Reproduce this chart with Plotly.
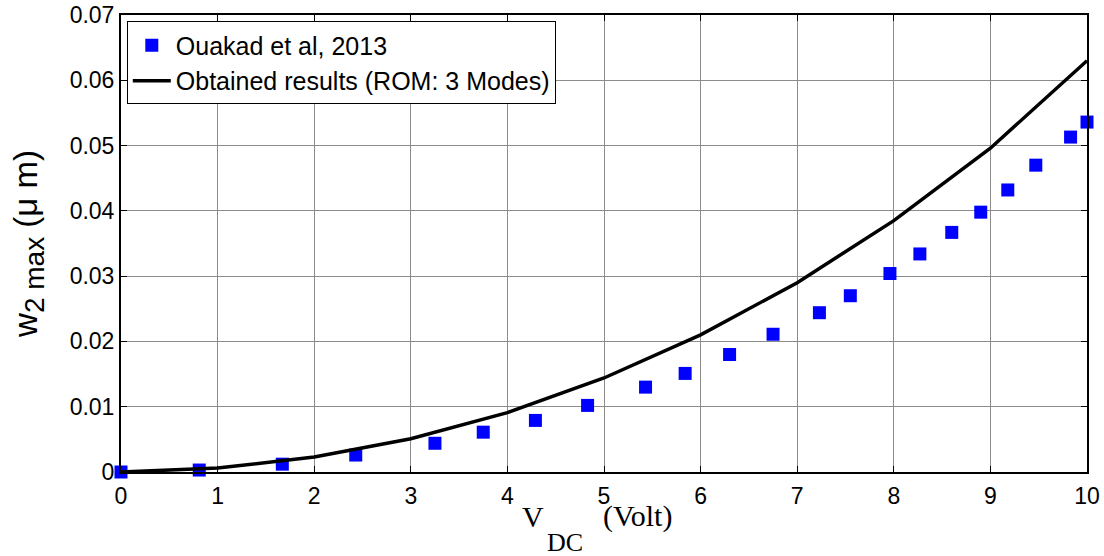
import plotly.graph_objects as go

# Reference data (Ouakad et al, 2013)
ref_v = [0.0, 0.81, 1.67, 2.43, 3.25, 3.75, 4.29, 4.83, 5.43, 5.84, 6.30, 6.75,
         7.23, 7.55, 7.96, 8.27, 8.60, 8.90, 9.18, 9.47, 9.83, 10.0]
ref_w = [0.0, 0.0003, 0.0012, 0.0026, 0.0044, 0.0061, 0.0079, 0.0102, 0.0130, 0.0151,
         0.0180, 0.0211, 0.0244, 0.0270, 0.0304, 0.0334, 0.0367, 0.0398, 0.0432,
         0.0470, 0.0513, 0.0536]

# Obtained results (ROM: 3 Modes)
rom_v = [0, 1, 2, 3, 4, 5, 6, 7, 8, 9, 10]
rom_w = [0.0, 0.0006, 0.0023, 0.0051, 0.0091, 0.0144, 0.0210, 0.0290, 0.0385, 0.0496, 0.0630]

x_ticks = [0, 1, 2, 3, 4, 5, 6, 7, 8, 9, 10]
y_ticks = [0, 0.01, 0.02, 0.03, 0.04, 0.05, 0.06, 0.07]
y_tick_text = ["0", "0.01", "0.02", "0.03", "0.04", "0.05", "0.06", "0.07"]

x_title_main = "V"
x_title_sub = "DC"
x_title_unit = "(Volt)"

ARIAL = "Arial, Liberation Sans, sans-serif"
TIMES = "Times New Roman, Liberation Serif, serif"

W, H = 1104, 556
ML, MR, MT, MB = 121, 17, 15, 84
PW = W - ML - MR


def px_to_paper_x(px):
    return (px - ML) / PW


fig = go.Figure()
fig.add_trace(go.Scatter(
    x=ref_v, y=ref_w, mode="markers", name="Ouakad et al, 2013",
    marker=dict(symbol="square", size=13, color="#0000FF", line=dict(width=0)),
    cliponaxis=False,
))
fig.add_trace(go.Scatter(
    x=rom_v, y=rom_w, mode="lines", name="Obtained results (ROM: 3 Modes)",
    line=dict(color="black", width=3.5),
    cliponaxis=False,
))

# x-axis title drawn as text pieces (deep subscript as in the original)
fig.add_annotation(text=x_title_main, xref="paper", yref="paper", x=px_to_paper_x(520), y=0,
                   xanchor="left", yanchor="middle", yshift=-44, showarrow=False,
                   font=dict(family=TIMES, size=30, color="black"))
fig.add_annotation(text=x_title_sub, xref="paper", yref="paper", x=px_to_paper_x(545), y=0,
                   xanchor="left", yanchor="middle", yshift=-70, showarrow=False,
                   font=dict(family=TIMES, size=26, color="black"))
fig.add_annotation(text=x_title_unit, xref="paper", yref="paper", x=px_to_paper_x(601), y=0,
                   xanchor="left", yanchor="middle", yshift=-44, showarrow=False,
                   font=dict(family=TIMES, size=30, color="black"))

fig.update_layout(
    width=W, height=H,
    margin=dict(l=ML, r=MR, t=MT, b=MB, autoexpand=False),
    paper_bgcolor="white", plot_bgcolor="white",
    font=dict(family=ARIAL, size=24, color="black"),
    showlegend=True,
    legend=dict(
        x=0.006, y=0.986, xanchor="left", yanchor="top",
        bgcolor="white", bordercolor="black", borderwidth=1,
        font=dict(family=ARIAL, size=25, color="black"),
        tracegroupgap=0, itemwidth=38,
    ),
    xaxis=dict(
        range=[0, 10], tickvals=x_ticks, ticktext=[str(v) for v in x_ticks],
        showgrid=True, gridcolor="#8c8c8c", gridwidth=1,
        zeroline=False, showline=True, linecolor="black", linewidth=2,
        mirror="allticks", ticks="inside", ticklen=6, tickcolor="black",
        tickfont=dict(size=23, family=ARIAL), automargin=False,
        ticklabelstandoff=2,
    ),
    yaxis=dict(
        range=[0, 0.07], tickvals=y_ticks, ticktext=y_tick_text,
        showgrid=True, gridcolor="#8c8c8c", gridwidth=1,
        zeroline=False, showline=True, linecolor="black", linewidth=2,
        mirror="allticks", ticks="inside", ticklen=6, tickcolor="black",
        tickfont=dict(size=23, family=ARIAL), automargin=False,
        title=dict(text="w<sub><span style='font-size:28px'>2 max</span></sub> (μ m)", standoff=22,
                   font=dict(family=ARIAL, size=33)),
    ),
)

fig.write_html("out.html", config={"displayModeBar": False},
               post_script="document.body.style.margin='0';document.documentElement.style.overflow='hidden';")
